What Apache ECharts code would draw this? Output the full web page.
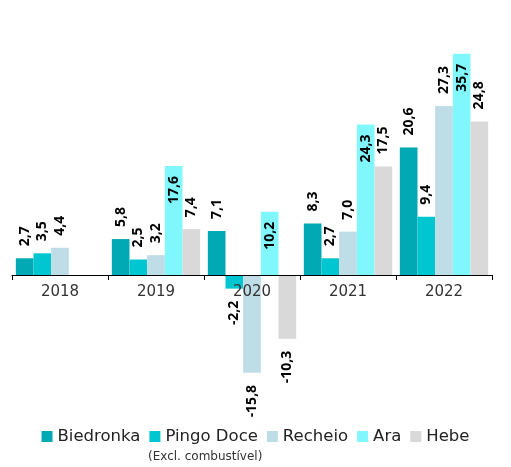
<!DOCTYPE html>
<html>
<head>
<meta charset="utf-8">
<script src="https://cdn.jsdelivr.net/npm/echarts@6/dist/echarts.min.js"></script>
<style>
    html, body { margin: 0; padding: 0; background: #fff; }
    #chart { width: 511px; height: 467px; }
</style>
</head>
<body>
<div id="chart"></div>
<script>
    var years = ['2018', '2019', '2020', '2021', '2022'];
    var seriesNames = ['Biedronka', 'Pingo Doce', 'Recheio', 'Ara', 'Hebe'];
    var biedronka = [2.7, 5.8, 7.1, 8.3, 20.6];
    var pingoDoce = [3.5, 2.5, -2.2, 2.7, 9.4];
    var recheio = [4.4, 3.2, -15.8, 7.0, 27.3];
    var ara = [null, 17.6, 10.2, 24.3, 35.7];
    var hebe = [null, 7.4, -10.3, 17.5, 24.8];
    var colors = ['#00a9b4', '#00c6d2', '#bfdde6', '#80f7fc', '#d9d9d9'];

    var FONT = 'DejaVu Sans';
    var fmt = function (v) { return v.toFixed(1).replace('.', ','); };

    // labels: rotated, outside the bar end (Ara inside its top)
    function buildData(values, inside) {
        return values.map(function (v) {
            if (v === null) return null;
            var lbl;
            if (v < 0) {
                lbl = { position: 'bottom', align: 'right', distance: 12, fontWeight: 'bold' };
            } else if (inside) {
                lbl = { position: 'insideTop', align: 'right', distance: 10, fontWeight: 'bold' };
            } else {
                lbl = { position: 'top', align: 'left', distance: 12, fontWeight: 'bold' };
            }
            return { value: v, label: lbl };
        });
    }

    var allValues = [biedronka, pingoDoce, recheio, ara, hebe];
    var series = allValues.map(function (vals, i) {
        return {
            name: seriesNames[i],
            type: 'bar',
            barGap: 0,
            barCategoryGap: '8%',
            clip: false,
            itemStyle: { color: colors[i] },
            label: {
                show: true,
                rotate: 90,
                verticalAlign: 'middle',
                color: '#000',
                fontSize: 14,
                fontWeight: 'bold',
                fontFamily: 'Noto Sans',
                formatter: function (p) { return fmt(p.value); }
            },
            data: buildData(vals, i === 3)
        };
    });

    var myChart = echarts.init(document.getElementById('chart'));
    var option = {
        animation: false,
        textStyle: { fontFamily: FONT },
        // grid bottom sits on the zero line; negative bars hang below it
        grid: { left: 12, right: 19, top: 52, height: 223 },
        legend: {
            bottom: 17,
            left: 'center',
            itemWidth: 11,
            itemHeight: 11,
            itemGap: 9,
            icon: 'rect',
            textStyle: { fontSize: 16.5, color: '#222', fontFamily: FONT },
            data: seriesNames
        },
        graphic: [{
            type: 'text',
            left: 148,
            top: 451,
            style: { text: '(Excl. combustível)', fontSize: 12, fill: '#333', fontFamily: FONT }
        }],
        xAxis: {
            type: 'category',
            data: years,
            z: 10,
            axisLine: { lineStyle: { color: '#000', width: 1 } },
            axisTick: { show: true, length: 5, lineStyle: { color: '#000' } },
            axisLabel: { color: '#333', fontSize: 15, fontFamily: FONT, margin: 10 }
        },
        yAxis: {
            type: 'value',
            min: 0,
            max: 36,
            show: false,
            splitLine: { show: false }
        },
        series: series
    };
    myChart.setOption(option);
</script>
</body>
</html>
